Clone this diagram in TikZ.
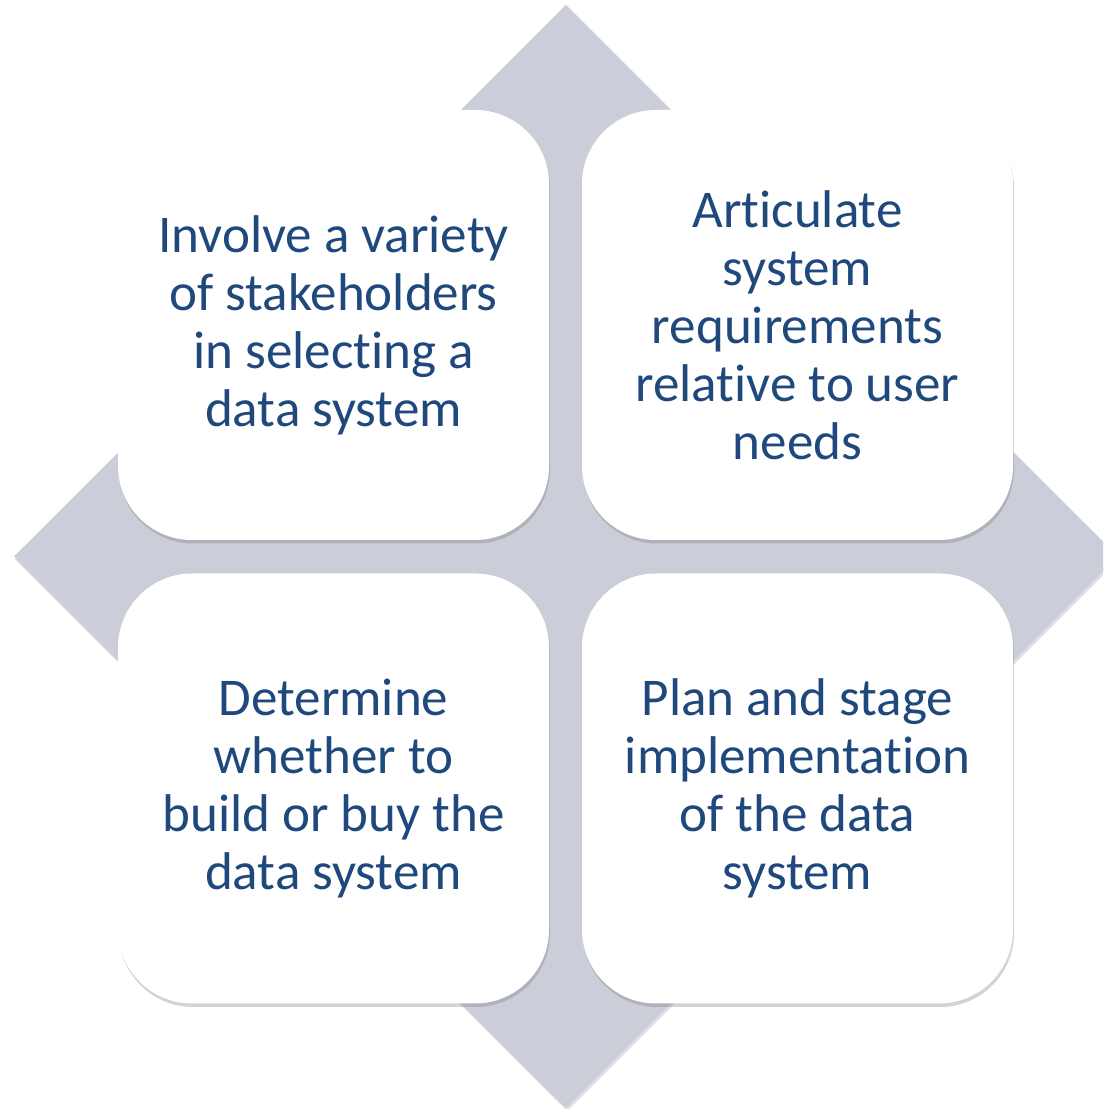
\documentclass[tikz,border=0pt]{standalone}
\usepackage{fontspec}
\setmainfont[Ligatures=NoCommon]{Carlito}
\usetikzlibrary{shadows}
\definecolor{diamondgrey}{RGB}{203,206,216}
\definecolor{cardtext}{RGB}{31,73,125}
\tikzset{
  card/.style={rectangle, rounded corners=0.74cm, fill=white, inner sep=0pt,
    minimum width=4.31cm, minimum height=4.30cm, align=center, text=cardtext,
    font=\fontsize{15.1}{16.5}\selectfont,
    drop shadow={shadow xshift=0.01cm, shadow yshift=-0.035cm, opacity=0.35}},
  backdrop/.style={fill=diamondgrey,
    drop shadow={shadow xshift=0.01cm, shadow yshift=-0.03cm, opacity=0.25}}
}
\begin{document}
\begin{tikzpicture}
  \useasboundingbox (0,0) rectangle (11.03,11.09);
  \clip (0,0) rectangle (11.03,11.09);
  % grey diamond behind the four cards
  \path[backdrop] (5.66,11.04)--(11.18,5.525)--(5.66,0.01)--(0.14,5.525)--cycle;
  % the four cards
  \node[card] (involve) at (3.335,7.84) {Involve a variety\\of stakeholders\\in selecting a\\data system};
  \node[card] (articulate) at (7.975,7.84) {Articulate\\system\\requirements\\relative to user\\needs};
  \node[card] (determine) at (3.335,3.205) {Determine\\whether to\\build or buy the\\data system};
  \node[card] (plan) at (7.975,3.205) {Plan and stage\\implementation\\of the data\\system};
\end{tikzpicture}
\end{document}
